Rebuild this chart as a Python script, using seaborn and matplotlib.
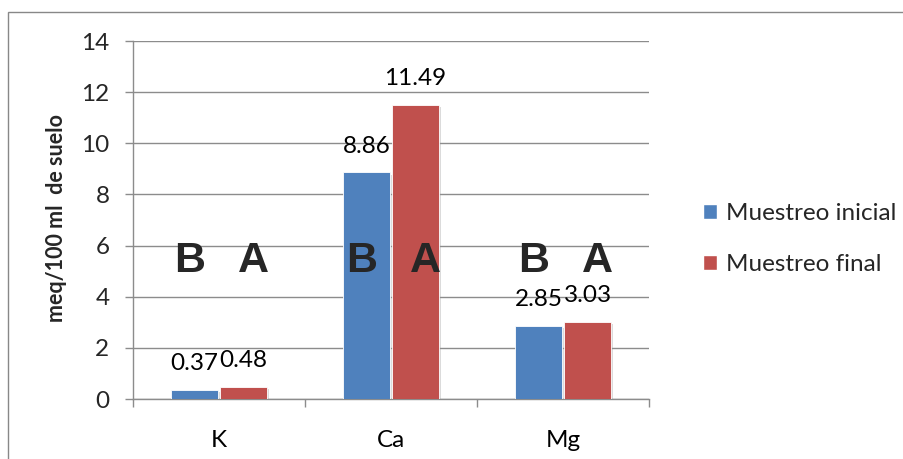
import matplotlib
matplotlib.use("Agg")
import matplotlib.pyplot as plt
import matplotlib.patheffects as pe
from matplotlib.patches import Rectangle, Patch
from matplotlib.ticker import FixedLocator
import seaborn as sns
import pandas as pd

# Exchangeable cations, meq/100 ml of soil
nutrients = ["K", "Ca", "Mg"]
series = ["Muestreo inicial", "Muestreo final"]
inicial = [0.37, 8.86, 2.85]
final = [0.48, 11.49, 3.03]
letters_inicial = ["B", "B", "B"]
letters_final = ["A", "A", "A"]
y_ticks = [0, 2, 4, 6, 8, 10, 12, 14]

colors = ["#4F81BD", "#C0504D"]
grid_gray = "#8C8C8C"

df = pd.DataFrame({
    "nutriente": nutrients * 2,
    "muestreo": [series[0]] * 3 + [series[1]] * 3,
    "valor": inicial + final,
})

sns.set_theme(style="white")
plt.rcParams["font.family"] = ["Lato", "DejaVu Sans"]

fig = plt.figure(figsize=(9.04, 4.59), dpi=100)
ax = fig.add_axes([133 / 904, 1 - 399 / 459, (649 - 133) / 904, (399 - 41) / 459])

# outer chart frame
fig.patches.append(Rectangle((8 / 904, -0.1), 1.2, 1 - 12 / 459 + 0.1,
                             transform=fig.transFigure, fill=False,
                             edgecolor="#888888", linewidth=1.0, zorder=0))

sns.barplot(data=df, x="nutriente", y="valor", hue="muestreo",
            order=nutrients, hue_order=series, palette=colors,
            width=0.57, gap=0.04, dodge=True, legend=False, ax=ax,
            edgecolor="white", linewidth=0.6, saturation=1, zorder=3)

shadow = [pe.SimplePatchShadow(offset=(1.5, -1.5), shadow_rgbFace="#999999", alpha=0.35),
          pe.Normal()]
for p in ax.patches:
    p.set_path_effects(shadow)

# value labels above each bar
for cont in ax.containers:
    for bar in cont:
        h = bar.get_height()
        ax.annotate(f"{h:.2f}", (bar.get_x() + bar.get_width() / 2, h),
                    xytext=(0, 19), textcoords="offset points",
                    ha="center", va="center", fontsize=17.5, color="black", zorder=5)

# significance letters
for i in range(len(nutrients)):
    ax.text(i - 0.17, 5.4, letters_inicial[i], ha="center", va="center",
            fontsize=31, fontweight="bold", family="Liberation Sans", zorder=6)
    ax.text(i + 0.2, 5.4, letters_final[i], ha="center", va="center",
            fontsize=31, fontweight="bold", family="Liberation Sans", zorder=6)

ax.set_ylim(0, 14)
ax.set_xlim(-0.5, 2.5)
ax.set_yticks(y_ticks)
ax.set_yticklabels([str(t) for t in y_ticks])
ax.yaxis.grid(True, color=grid_gray, linewidth=1.0, zorder=0)
ax.set_axisbelow(True)

ax.xaxis.set_minor_locator(FixedLocator([-0.5, 0.5, 1.5, 2.5]))
ax.tick_params(axis="x", which="major", length=0, pad=22, labelsize=17.5, colors="black")
ax.tick_params(axis="x", which="minor", length=6, width=1.0, color=grid_gray, direction="out", bottom=True)
ax.tick_params(axis="y", which="major", length=6, width=1.0, color=grid_gray, direction="out",
               pad=11, labelsize=17.5, left=True)

for s in ["top", "right"]:
    ax.spines[s].set_visible(False)
for s in ["left", "bottom"]:
    ax.spines[s].set_color(grid_gray)
    ax.spines[s].set_linewidth(1.0)

ax.set_xlabel("")
ax.set_ylabel("meq/100 ml  de suelo", fontsize=15.5, fontweight="bold", labelpad=10)
ax.yaxis.set_label_coords(-0.128, 0.506)

handles = [Patch(facecolor=c, edgecolor="white") for c in colors]
fig.legend(handles, series, loc="center left", bbox_to_anchor=(691 / 904, 1 - 239 / 459),
           frameon=False, fontsize=17.5, handlelength=0.55, handleheight=0.55,
           handletextpad=0.4, labelspacing=1.25, borderpad=0)

fig.savefig("out.png", dpi=100)
